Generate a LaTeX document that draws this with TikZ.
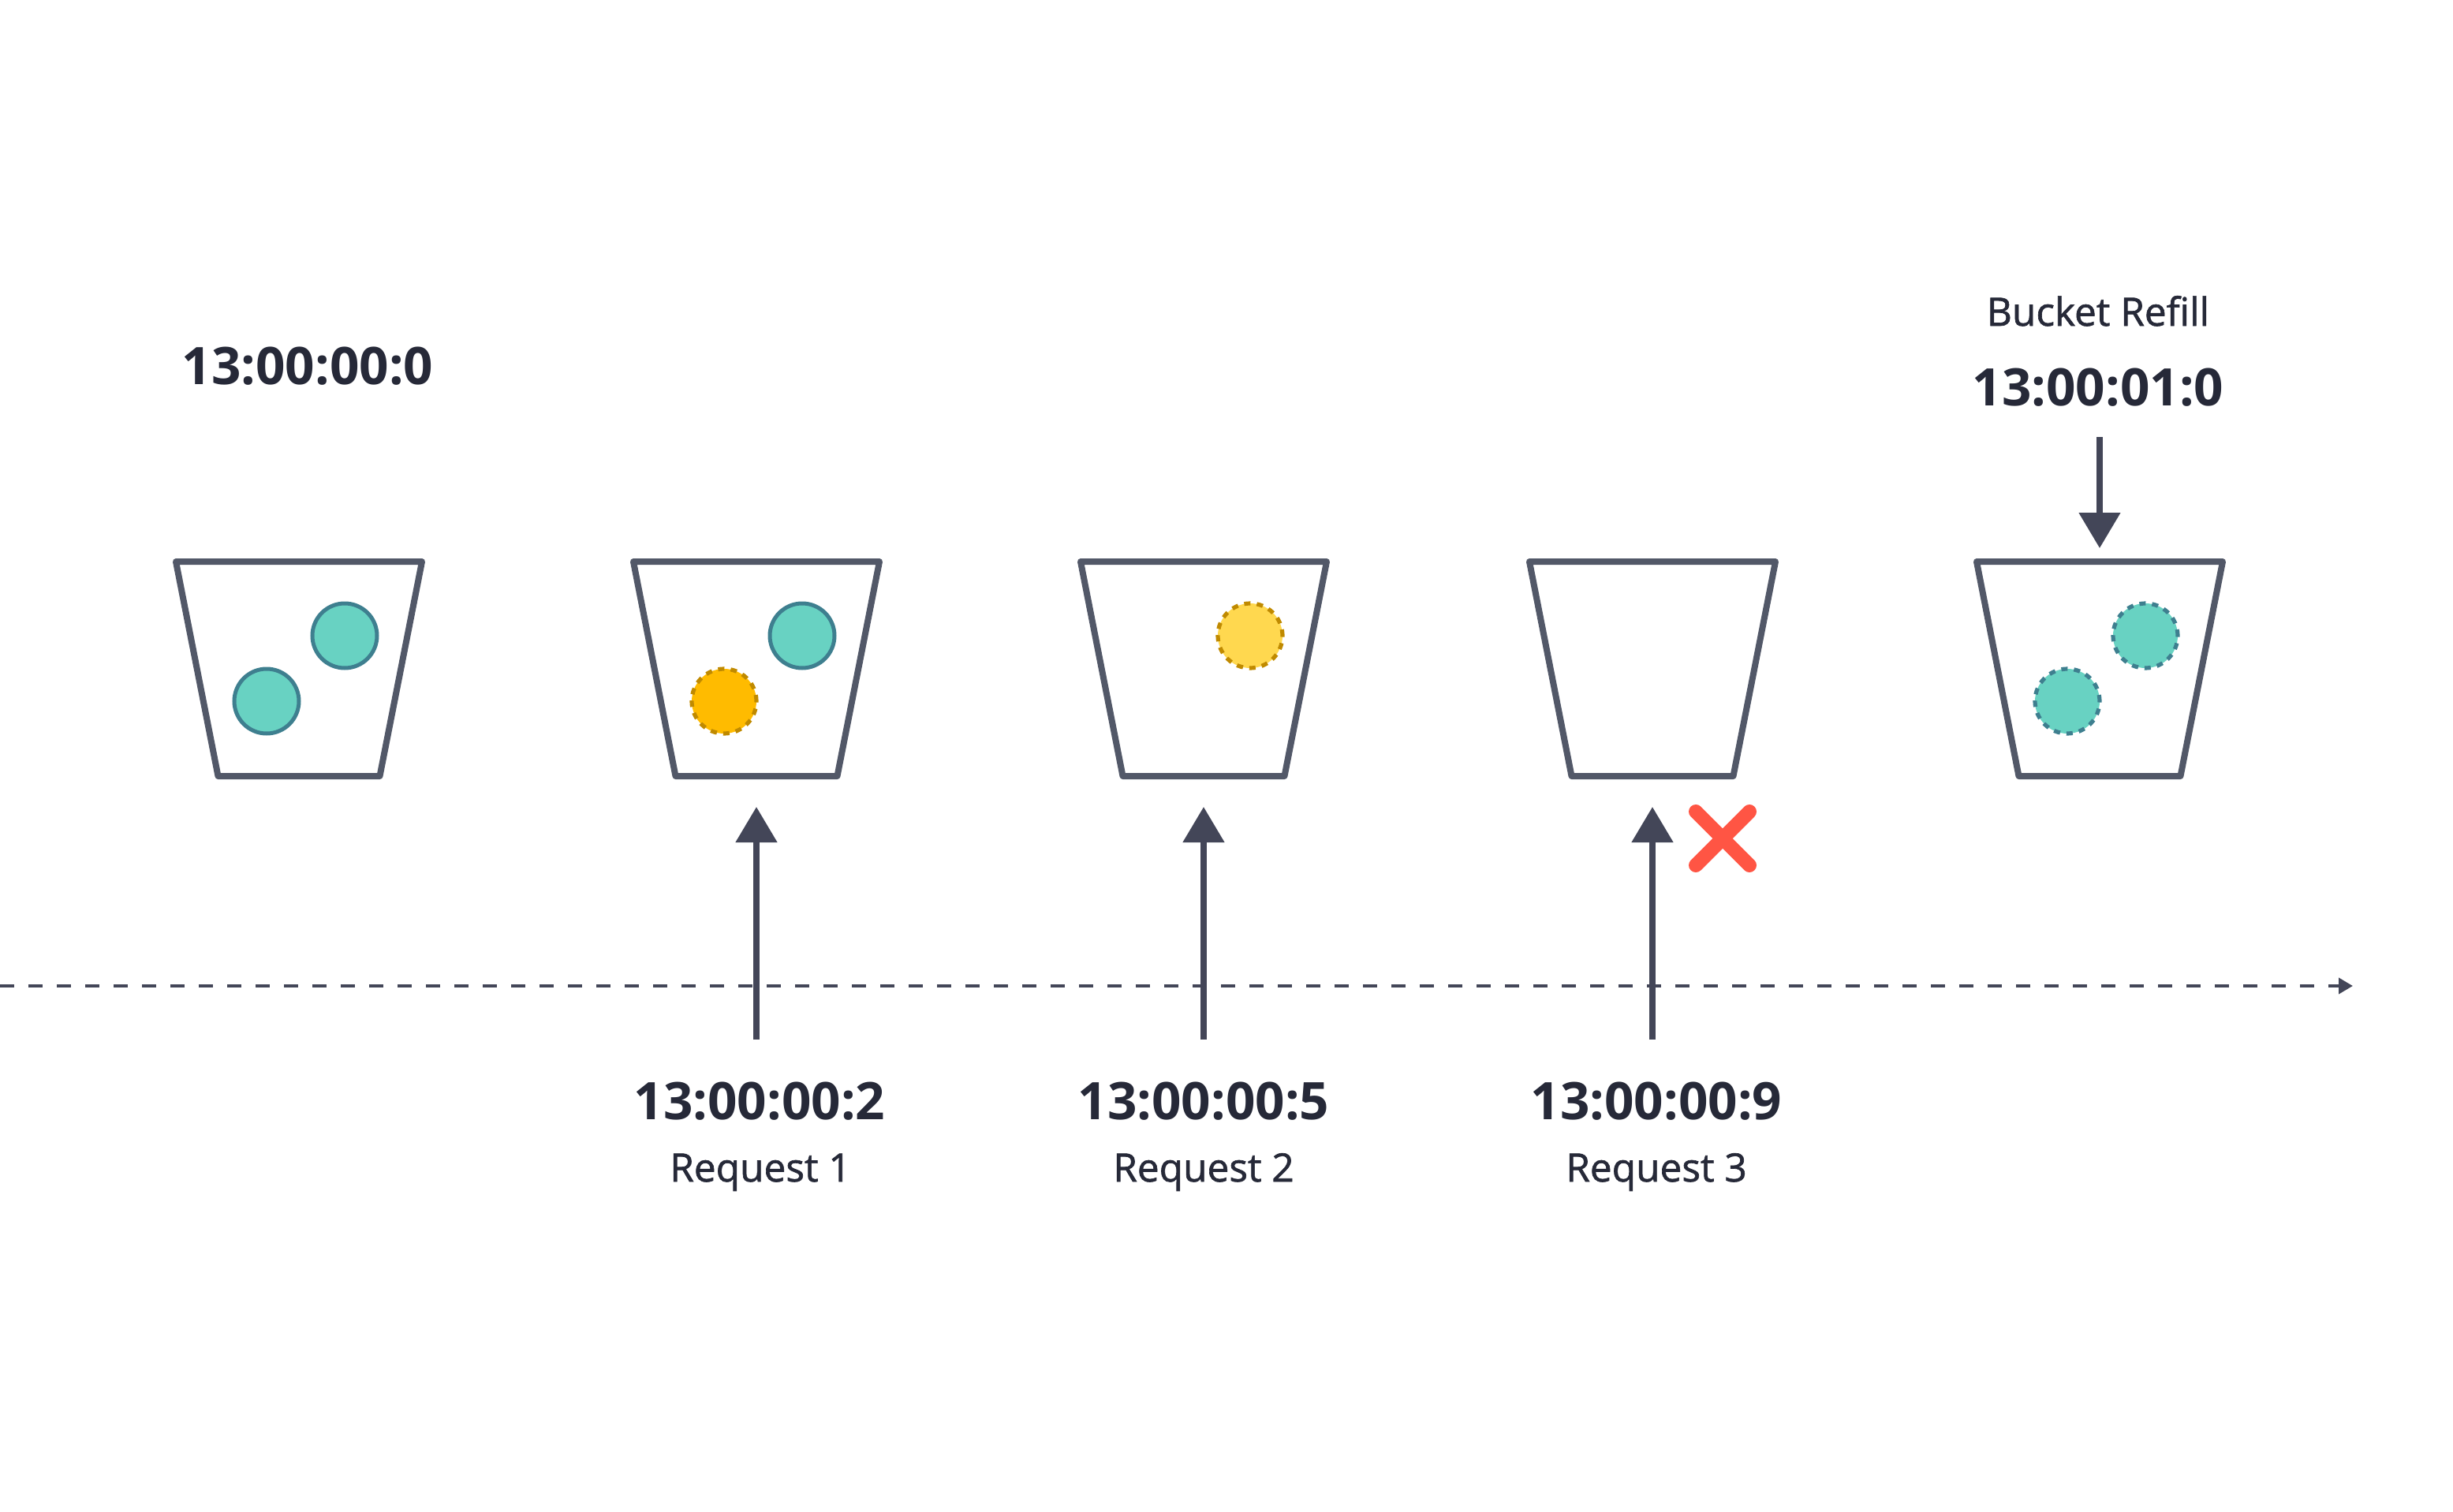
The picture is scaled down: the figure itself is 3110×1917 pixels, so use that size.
\documentclass[tikz,border=0pt]{standalone}
\usepackage{fontspec}
\setmainfont{Open Sans}
\newfontfamily\mediumface[FakeBold=1.3]{Open Sans}
\usetikzlibrary{arrows.meta}

\definecolor{ink}{HTML}{262938}
\definecolor{rim}{HTML}{525868}
\definecolor{shaft}{HTML}{434658}
\definecolor{tealfill}{HTML}{68D2C2}
\definecolor{tealline}{HTML}{3E7F8F}
\definecolor{amber}{HTML}{FFBB00}
\definecolor{lemon}{HTML}{FFD84F}
\definecolor{ochre}{HTML}{C08A00}
\definecolor{stopred}{HTML}{FF5544}

\tikzset{
  bucket/.style={draw=rim, line width=2pt, line join=round},
  token/.style={circle, minimum size=20.5pt, inner sep=0pt},
  kept/.style={token, fill=tealfill, draw=tealline, line width=1.25pt},
  spent/.style={token, draw=ochre, line width=1.3pt, dash pattern=on 2pt off 2pt},
  refilled/.style={token, fill=tealfill, draw=tealline, line width=1.3pt, dash pattern=on 2pt off 2pt},
  stamp/.style={text=ink, font=\fontsize{16.4}{20}\selectfont\bfseries, inner sep=0pt, anchor=base},
  caption/.style={text=ink, font=\fontsize{12.4}{15}\selectfont\mediumface, inner sep=0pt, anchor=base},
  req/.style={draw=shaft, line width=2pt, -{Triangle[width=12.75pt, length=11.25pt]}},
  timeline/.style={draw=shaft, line width=1pt, dash pattern=on 4.5pt off 4.5pt, -{Triangle[width=5pt, length=4.5pt]}},
  cross/.style={draw=stopred, line width=4.5pt, line cap=round}
}

\begin{document}
\begin{tikzpicture}[x=0.25pt, y=-0.25pt]
\useasboundingbox (0,0) rectangle (3110,1917);

% buckets
\foreach \cx [count=\i] in {379,959,1526,2095,2662} {
  \draw[bucket] (\cx-156,712) -- (\cx+156,712) -- (\cx+102.5,984) -- (\cx-102.5,984) -- cycle;
  \coordinate (b\i) at (\cx,712);
}

% tokens
\node[kept] (k11) at (338,889) {};
\node[kept] (k12) at (437,806) {};
\node[spent, fill=amber] (k21) at (918,889) {};
\node[kept] (k22) at (1017,806) {};
\node[spent, fill=lemon] (k32) at (1585,806) {};
\node[refilled] (k51) at (2621,889) {};
\node[refilled] (k52) at (2720,806) {};

% time line
\coordinate (start) at (0,1250);
\coordinate (stop) at (2983,1250);
\draw[timeline] (start) -- (stop);

% labels
\node[stamp] (t1) at (390,487) {13:00:00:0};
\node[caption] (refill) at (2660,413) {Bucket Refill};
\node[stamp] (t5) at (2660,514) {13:00:01:0};

\node[stamp] (t2) at (963,1419) {13:00:00:2};
\node[caption] (r2) at (964,1498) {Request 1};
\node[stamp] (t3) at (1526,1419) {13:00:00:5};
\node[caption] (r3) at (1526,1498) {Request 2};
\node[stamp] (t4) at (2100,1419) {13:00:00:9};
\node[caption] (r4) at (2100,1498) {Request 3};

% arrows
\coordinate (f2) at (959,1318);  \coordinate (h2) at (959,1023);
\coordinate (f3) at (1526,1318); \coordinate (h3) at (1526,1023);
\coordinate (f4) at (2095,1318); \coordinate (h4) at (2095,1023);
\draw[req] (f2) -- (h2);
\draw[req] (f3) -- (h3);
\draw[req] (f4) -- (h4);

\coordinate (f5) at (2662,554); \coordinate (h5) at (2662,695);
\draw[req] (f5) -- (h5);

% rejected
\coordinate (x1) at (2150,1029); \coordinate (x2) at (2218,1097);
\coordinate (x3) at (2218,1029); \coordinate (x4) at (2150,1097);
\draw[cross] (x1) -- (x2);
\draw[cross] (x3) -- (x4);
\end{tikzpicture}
\end{document}
